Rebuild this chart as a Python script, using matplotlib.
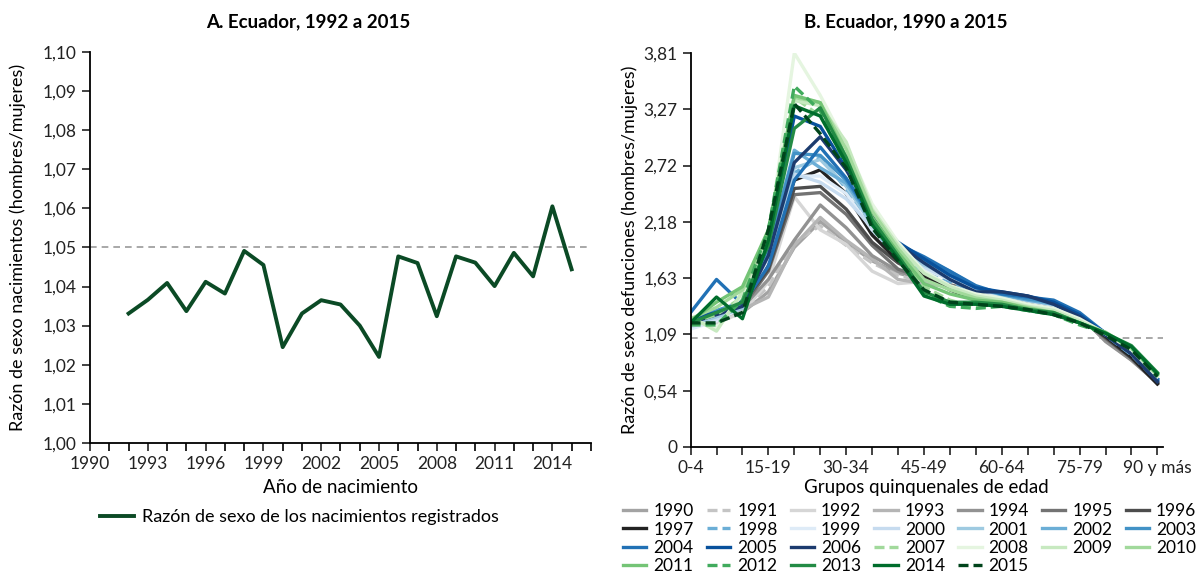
import matplotlib.pyplot as plt
from matplotlib.ticker import FixedLocator, NullFormatter

plt.rcParams["font.family"] = ["Lato", "DejaVu Sans"]

# Panel A: razon de sexo de los nacimientos
anios_nac = [1992, 1993, 1994, 1995, 1996, 1997, 1998, 1999, 2000, 2001, 2002, 2003,
             2004, 2005, 2006, 2007, 2008, 2009, 2010, 2011, 2012, 2013, 2014, 2015]
razon_nac = [1.0331, 1.0366, 1.0409, 1.0337, 1.0412, 1.0382, 1.0491, 1.0455, 1.0245,
             1.0331, 1.0365, 1.0354, 1.0300, 1.0220, 1.0477, 1.0460, 1.0324, 1.0477,
             1.0461, 1.0401, 1.0486, 1.0426, 1.0605, 1.0444]
ticks_a_y = [1.00, 1.01, 1.02, 1.03, 1.04, 1.05, 1.06, 1.07, 1.08, 1.09, 1.10]
labels_a_y = ["1,00", "1,01", "1,02", "1,03", "1,04", "1,05", "1,06", "1,07", "1,08", "1,09", "1,10"]
labels_a_x = [1990, 1993, 1996, 1999, 2002, 2005, 2008, 2011, 2014]

# Panel B: razon de sexo de las defunciones por grupo de edad
grupos_edad = ["0-4", "5-9", "10-14", "15-19", "20-24", "25-29", "30-34", "35-39", "40-44",
               "45-49", "50-54", "55-59", "60-64", "65-69", "70-74", "75-79", "80-84",
               "85-89", "90 y más"]
etiquetas_b_x = ["0-4", "15-19", "30-34", "45-49", "60-64", "75-79", "90 y más"]
labels_b_y = ["0", "0,54", "1,09", "1,63", "2,18", "2,72", "3,27", "3,81"]

d1990 = [1.20, 1.24, 1.30, 1.50, 1.93, 2.18, 1.98, 1.80, 1.68, 1.62, 1.56, 1.50, 1.47, 1.44, 1.38, 1.26, 1.03, 0.84, 0.62]
d1991 = [1.18, 1.22, 1.32, 1.55, 1.98, 2.14, 1.95, 1.78, 1.66, 1.60, 1.55, 1.49, 1.46, 1.42, 1.37, 1.25, 1.04, 0.85, 0.63]
d1992 = [1.22, 1.20, 1.30, 1.60, 2.42, 2.10, 1.96, 1.70, 1.58, 1.60, 1.54, 1.48, 1.45, 1.42, 1.36, 1.26, 1.05, 0.86, 0.64]
d1993 = [1.20, 1.25, 1.33, 1.45, 1.95, 2.22, 2.00, 1.82, 1.62, 1.58, 1.55, 1.50, 1.48, 1.43, 1.38, 1.27, 1.04, 0.86, 0.63]
d1994 = [1.22, 1.24, 1.35, 1.62, 2.00, 2.34, 2.12, 1.85, 1.70, 1.62, 1.56, 1.52, 1.48, 1.44, 1.40, 1.28, 1.02, 0.84, 0.62]
d1995 = [1.20, 1.26, 1.35, 1.70, 2.44, 2.46, 2.25, 1.95, 1.72, 1.63, 1.57, 1.50, 1.47, 1.42, 1.38, 1.26, 1.05, 0.86, 0.62]
d1996 = [1.22, 1.28, 1.38, 1.72, 2.50, 2.52, 2.30, 1.98, 1.78, 1.65, 1.56, 1.48, 1.45, 1.40, 1.36, 1.25, 1.06, 0.86, 0.61]
d1997 = [1.20, 1.27, 1.36, 1.80, 2.58, 2.68, 2.45, 2.05, 1.80, 1.66, 1.52, 1.42, 1.40, 1.37, 1.34, 1.24, 1.07, 0.87, 0.61]
d1998 = [1.16, 1.25, 1.38, 1.85, 2.65, 2.80, 2.50, 2.10, 1.85, 1.70, 1.60, 1.50, 1.46, 1.42, 1.37, 1.25, 1.08, 0.89, 0.64]
d1999 = [1.14, 1.22, 1.35, 1.82, 2.62, 2.62, 2.45, 2.10, 1.88, 1.72, 1.62, 1.52, 1.46, 1.42, 1.38, 1.26, 1.10, 0.90, 0.66]
d2000 = [1.16, 1.24, 1.36, 1.85, 2.64, 2.56, 2.40, 2.12, 1.88, 1.74, 1.62, 1.52, 1.47, 1.41, 1.37, 1.26, 1.09, 0.90, 0.65]
d2001 = [1.18, 1.26, 1.34, 1.88, 2.70, 2.78, 2.52, 2.15, 1.90, 1.76, 1.66, 1.54, 1.47, 1.42, 1.38, 1.27, 1.10, 0.90, 0.65]
d2002 = [1.20, 1.30, 1.38, 1.90, 2.87, 2.70, 2.55, 2.18, 1.95, 1.82, 1.70, 1.55, 1.47, 1.42, 1.38, 1.27, 1.10, 0.91, 0.66]
d2003 = [1.22, 1.32, 1.40, 1.92, 2.84, 2.82, 2.58, 2.20, 1.95, 1.80, 1.68, 1.54, 1.48, 1.43, 1.40, 1.28, 1.10, 0.91, 0.65]
d2004 = [1.30, 1.62, 1.38, 1.75, 2.58, 2.90, 2.60, 2.22, 1.96, 1.84, 1.70, 1.56, 1.48, 1.45, 1.42, 1.30, 1.10, 0.92, 0.66]
d2005 = [1.24, 1.30, 1.40, 1.95, 3.20, 3.10, 2.70, 2.25, 1.98, 1.82, 1.66, 1.54, 1.50, 1.46, 1.40, 1.28, 1.09, 0.90, 0.64]
d2006 = [1.20, 1.28, 1.36, 1.85, 2.75, 3.00, 2.68, 2.25, 1.96, 1.78, 1.62, 1.50, 1.50, 1.46, 1.38, 1.26, 1.08, 0.90, 0.63]
d2007 = [1.20, 1.28, 1.45, 2.05, 3.38, 3.20, 2.75, 2.18, 1.85, 1.55, 1.42, 1.35, 1.38, 1.33, 1.30, 1.20, 1.10, 0.95, 0.70]
d2008 = [1.24, 1.15, 1.48, 2.00, 3.81, 3.40, 2.92, 2.35, 1.98, 1.70, 1.56, 1.48, 1.44, 1.38, 1.34, 1.24, 1.10, 0.94, 0.68]
d2009 = [1.26, 1.12, 1.50, 2.05, 3.35, 3.30, 2.95, 2.30, 1.95, 1.68, 1.55, 1.46, 1.42, 1.36, 1.32, 1.22, 1.10, 0.95, 0.69]
d2010 = [1.24, 1.35, 1.52, 2.08, 3.38, 3.33, 2.88, 2.28, 1.92, 1.62, 1.52, 1.44, 1.40, 1.35, 1.30, 1.20, 1.10, 0.96, 0.70]
d2011 = [1.22, 1.40, 1.55, 2.10, 3.40, 3.33, 2.80, 2.22, 1.88, 1.58, 1.48, 1.42, 1.40, 1.34, 1.30, 1.20, 1.11, 0.96, 0.70]
d2012 = [1.18, 1.18, 1.42, 2.10, 3.49, 3.25, 2.72, 2.15, 1.82, 1.48, 1.36, 1.34, 1.36, 1.32, 1.28, 1.18, 1.10, 0.96, 0.71]
d2013 = [1.20, 1.30, 1.40, 1.95, 3.08, 3.28, 2.80, 2.20, 1.85, 1.50, 1.40, 1.40, 1.38, 1.33, 1.30, 1.20, 1.10, 0.98, 0.72]
d2014 = [1.20, 1.45, 1.24, 2.00, 3.30, 3.20, 2.75, 2.15, 1.82, 1.46, 1.38, 1.38, 1.36, 1.32, 1.28, 1.20, 1.10, 0.97, 0.71]
d2015 = [1.20, 1.20, 1.30, 2.10, 3.32, 3.03, 2.70, 2.12, 1.80, 1.52, 1.40, 1.38, 1.36, 1.33, 1.28, 1.20, 1.08, 0.94, 0.68]

series_b = [
    ("1990", d1990, "#a3a3a3", "-"), ("1991", d1991, "#c4c4c4", "--"),
    ("1992", d1992, "#d6d6d6", "-"), ("1993", d1993, "#b5b5b5", "-"),
    ("1994", d1994, "#929292", "-"), ("1995", d1995, "#737373", "-"),
    ("1996", d1996, "#4d4d4d", "-"), ("1997", d1997, "#222222", "-"),
    ("1998", d1998, "#6baed6", "--"), ("1999", d1999, "#deebf7", "-"),
    ("2000", d2000, "#c6dbef", "-"), ("2001", d2001, "#9ecae1", "-"),
    ("2002", d2002, "#6baed6", "-"), ("2003", d2003, "#4292c6", "-"),
    ("2004", d2004, "#2171b5", "-"), ("2005", d2005, "#08519c", "-"),
    ("2006", d2006, "#1c3b6e", "-"), ("2007", d2007, "#a1d99b", "--"),
    ("2008", d2008, "#e5f5e0", "-"), ("2009", d2009, "#c7e9c0", "-"),
    ("2010", d2010, "#a1d99b", "-"), ("2011", d2011, "#74c476", "-"),
    ("2012", d2012, "#41ab5d", "--"), ("2013", d2013, "#238b45", "-"),
    ("2014", d2014, "#006d2c", "-"), ("2015", d2015, "#00441b", "--"),
]

fig = plt.figure(figsize=(12.01, 5.76), dpi=100)


def estilo_ejes(ax):
    for lado in ["top", "right"]:
        ax.spines[lado].set_visible(False)
    for lado in ["left", "bottom"]:
        ax.spines[lado].set_linewidth(1.3)
    ax.tick_params(direction="out", length=6, width=1.2, labelsize=12.5, colors="#222222")


# ---- Panel A ----
ax1 = fig.add_axes([0.075, 0.231, 0.417, 0.679])
ax1.axhline(1.05, color="#9a9a9a", linestyle=(0, (4, 3)), linewidth=1.2)
ax1.plot(anios_nac, razon_nac, color="#0b4a25", linewidth=2.8,
         label="Razón de sexo de los nacimientos registrados")
ax1.set_xlim(1990, 2016)
ax1.set_ylim(1.00, 1.10)
ax1.xaxis.set_major_locator(FixedLocator(labels_a_x))
ax1.xaxis.set_minor_locator(FixedLocator(list(range(1990, 2017))))
ax1.xaxis.set_minor_formatter(NullFormatter())
ax1.set_yticks(ticks_a_y)
ax1.set_yticklabels(labels_a_y)
estilo_ejes(ax1)
ax1.tick_params(which="minor", direction="out", length=6, width=1.2)
ax1.set_ylabel("Razón de sexo nacimientos (hombres/mujeres)", fontsize=13, labelpad=12)
ax1.set_xlabel("Año de nacimiento", fontsize=13.5, labelpad=5)
fig.text(0.257, 0.962, "A. Ecuador, 1992 a 2015", ha="center", va="center",
         fontsize=13.5, fontweight="bold")
ax1.legend(loc="upper left", bbox_to_anchor=(0.005, -0.15), frameon=False,
           fontsize=13, handlelength=1.9, handletextpad=0.45, borderaxespad=0)

# ---- Panel B ----
ax2 = fig.add_axes([0.575, 0.224, 0.393, 0.684])
x_b = list(range(len(grupos_edad)))
ax2.axhline(1.05, color="#9a9a9a", linestyle=(0, (4, 3)), linewidth=1.2)
lineas = []
for anio, valores, color, estilo in series_b:
    ls = (0, (3, 1.5)) if estilo == "--" else "-"
    (ln,) = ax2.plot(x_b, valores, color=color, linestyle=ls, linewidth=2.4, label=anio)
    lineas.append(ln)
ax2.set_xlim(0, 18.2)
ax2.set_ylim(0, 3.81)
ax2.set_yticks([3.81 * i / 7 for i in range(8)])
ax2.set_yticklabels(labels_b_y)
ax2.set_xticks(x_b)
ax2.set_xticklabels([g if g in etiquetas_b_x else "" for g in grupos_edad])
estilo_ejes(ax2)
ax2.set_ylabel("Razón de sexo defunciones (hombres/mujeres)", fontsize=13, labelpad=4)
ax2.set_xlabel("Grupos quinquenales de edad", fontsize=13.5, labelpad=2)
fig.text(0.754, 0.962, "B. Ecuador, 1990 a 2015", ha="center", va="center",
         fontsize=13.5, fontweight="bold")

# leyenda por filas: reordenar para el llenado por columnas de matplotlib
ncol = 7
orden = []
for c in range(ncol):
    orden.extend(range(c, len(lineas), ncol))
fig.legend([lineas[i] for i in orden], [series_b[i][0] for i in orden],
           loc="upper left", bbox_to_anchor=(0.513, 0.138), ncol=ncol, frameon=False,
           fontsize=12.5, handlelength=1.35, handletextpad=0.4, columnspacing=0.75,
           labelspacing=0.12, borderaxespad=0)

fig.savefig("out.png", dpi=100)
